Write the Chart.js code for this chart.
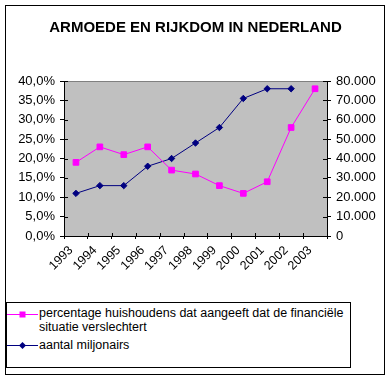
<!DOCTYPE html>
<html>
<head>
<meta charset="utf-8">
<script src="https://cdn.jsdelivr.net/npm/chart.js@4.4.1/dist/chart.umd.min.js"></script>
<style>
  html, body { margin: 0; padding: 0; background: #fff; }
  body { width: 391px; height: 380px; position: relative; overflow: hidden; font-family: 'Liberation Sans', Arial, sans-serif; }
  #frame { position: absolute; left: 5px; top: 5px; width: 380px; height: 370px; box-sizing: border-box; border: 1px solid #000; }
  #wrap { position: absolute; left: 0; top: 0; width: 391px; height: 300px; }
  #legend { position: absolute; left: 6px; top: 302px; width: 345px; height: 66px; box-sizing: border-box; border: 1px solid #000; font-size: 12.5px; color: #000; }
  .item { position: absolute; left: 0; }
  .item svg { position: absolute; left: 0; }
  .item .txt { position: absolute; left: 32px; line-height: 14px; white-space: nowrap; }
</style>
</head>
<body>
<div id="frame"></div>
<div id="wrap"><canvas id="c" width="391" height="300"></canvas></div>
<div id="legend">
  <div class="item" style="top:0px">
    <svg width="31" height="20" style="top:1px"><line x1="0" y1="10.5" x2="31" y2="10.5" stroke="#FF00FF" stroke-width="1"/><rect x="12.5" y="7.5" width="6" height="6" fill="#FF00FF"/></svg>
    <div class="txt" style="top:3px">percentage huishoudens dat aangeeft dat de financiële<br>situatie verslechtert</div>
  </div>
  <div class="item" style="top:33px">
    <svg width="31" height="20" style="top:0px"><line x1="0" y1="9.5" x2="31" y2="9.5" stroke="#000080" stroke-width="1"/><polygon points="15.5,6 19,9.5 15.5,13 12,9.5" fill="#000080"/></svg>
    <div class="txt" style="top:2px">aantal miljonairs</div>
  </div>
</div>
<script>
const titleText = 'ARMOEDE EN RIJKDOM IN NEDERLAND';
const years = ['1993','1994','1995','1996','1997','1998','1999','2000','2001','2002','2003'];
const pctWorse = [19, 23, 21, 23, 17, 16, 13, 11, 14, 28, 38];
const millionaires = [22000, 26000, 26000, 36000, 40000, 48000, 56000, 71000, 76000, 76000, null];
const seriesNames = ['percentage huishoudens dat aangeeft dat de financiële situatie verslechtert', 'aantal miljonairs'];

function fmtThousands(v) {
  return String(Math.round(v)).replace(/\B(?=(\d{3})+(?!\d))/g, '.');
}
function fmtPct(v) {
  return v.toFixed(1).replace('.', ',') + '%';
}

const plotBg = {
  id: 'plotBg',
  beforeDraw(chart) {
    const a = chart.chartArea, ctx = chart.ctx;
    ctx.save();
    ctx.fillStyle = '#C0C0C0';
    ctx.fillRect(a.left, a.top, a.right - a.left, a.bottom - a.top);
    ctx.strokeStyle = '#808080';
    ctx.lineWidth = 1;
    ctx.beginPath();
    ctx.moveTo(a.left, a.top + 0.5);
    ctx.lineTo(a.right, a.top + 0.5);
    ctx.stroke();
    ctx.restore();
  }
};

// inner half of the "cross" tick marks
const innerTicks = {
  id: 'innerTicks',
  afterDatasetsDraw(chart) {
    const ctx = chart.ctx;
    const x = chart.scales.x, y = chart.scales.y, y1 = chart.scales.y1;
    ctx.save();
    ctx.strokeStyle = '#000';
    ctx.lineWidth = 1;
    ctx.beginPath();
    for (let i = 0; i < y.ticks.length; i++) {
      const py = Math.round(y.getPixelForTick(i)) + 0.5;
      ctx.moveTo(y.right, py); ctx.lineTo(y.right + 4, py);
    }
    for (let i = 0; i < y1.ticks.length; i++) {
      const py = Math.round(y1.getPixelForTick(i)) + 0.5;
      ctx.moveTo(y1.left - 4, py); ctx.lineTo(y1.left, py);
    }
    for (let i = 0; i <= years.length; i++) {
      const px = Math.round(x.getPixelForValue(i - 0.5)) + 0.5;
      ctx.moveTo(px, x.top - 3); ctx.lineTo(px, x.top);
    }
    ctx.stroke();
    ctx.restore();
  }
};

const font = { family: "'Liberation Sans', Arial, sans-serif", size: 13 };

new Chart(document.getElementById('c'), {
  type: 'line',
  data: {
    labels: years,
    datasets: [
      {
        label: seriesNames[0],
        data: pctWorse,
        yAxisID: 'y',
        borderColor: '#FF00FF',
        backgroundColor: '#FF00FF',
        borderWidth: 1,
        pointStyle: 'rect',
        pointRadius: 4,
        pointBorderWidth: 1,
        tension: 0
      },
      {
        label: seriesNames[1],
        data: millionaires,
        yAxisID: 'y1',
        borderColor: '#000080',
        backgroundColor: '#000080',
        borderWidth: 1,
        pointStyle: 'rectRot',
        pointRadius: 3.2,
        pointBorderWidth: 1,
        tension: 0
      }
    ]
  },
  options: {
    responsive: false,
    animation: false,
    devicePixelRatio: 1,
    layout: { padding: 0 },
    plugins: {
      legend: { display: false },
      tooltip: { enabled: false },
      title: {
        display: true,
        text: titleText,
        color: '#000',
        font: { family: "'Liberation Sans', Arial, sans-serif", size: 15, weight: 'bold', lineHeight: '18px' },
        padding: { top: 19, bottom: 44 }
      }
    },
    scales: {
      x: {
        type: 'category',
        offset: true,
        grid: { display: true, drawOnChartArea: false, offset: true, tickLength: 3, color: '#000', tickColor: '#000' },
        border: { display: true, color: '#000', width: 1 },
        ticks: { color: '#000', font: { family: font.family, size: 12.5 }, minRotation: 45, maxRotation: 45, autoSkip: false, padding: 4, labelOffset: -5 },
        afterFit(s) { s.height = 64; }
      },
      y: {
        position: 'left',
        min: 0, max: 40,
        grid: { display: true, drawOnChartArea: false, tickLength: 4, color: '#000', tickColor: '#000' },
        border: { display: true, color: '#000', width: 1 },
        ticks: { stepSize: 5, color: '#000', font: font, padding: 5, callback: v => fmtPct(v) },
        afterFit(s) { s.width = 64; }
      },
      y1: {
        position: 'right',
        min: 0, max: 80000,
        grid: { display: true, drawOnChartArea: false, tickLength: 4, color: '#000', tickColor: '#000' },
        border: { display: true, color: '#000', width: 1 },
        ticks: { stepSize: 10000, color: '#000', font: font, padding: 5, callback: v => fmtThousands(v) },
        afterFit(s) { s.width = 64; }
      }
    }
  },
  plugins: [plotBg, innerTicks]
});
</script>
</body>
</html>
